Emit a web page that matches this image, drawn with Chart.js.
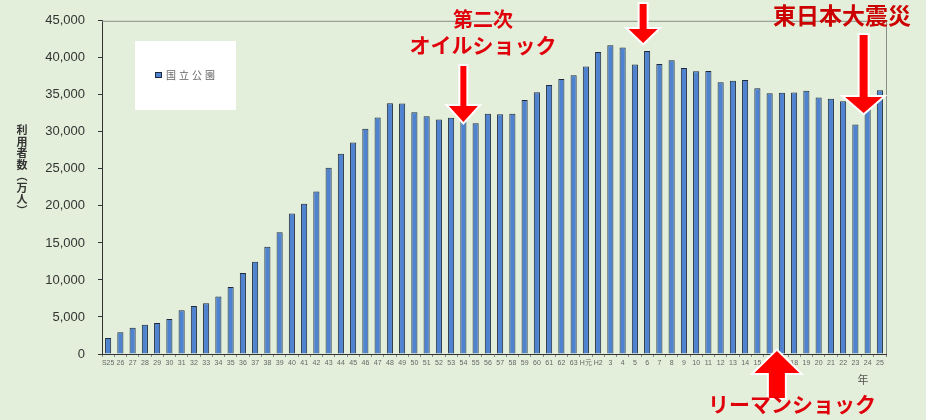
<!DOCTYPE html>
<html lang="ja">
<head>
    <meta charset="UTF-8">
    <title>国立公園 利用者数の推移</title>
    <script src="https://cdn.jsdelivr.net/npm/chart.js"></script>
    <style>
        body { margin: 0; background: #e3efda; }
        #wrap { width: 926px; height: 420px; }
    </style>
</head>
<body>
<div id="wrap"><canvas id="chart" width="926" height="420"></canvas></div>
<script>
    // 年 (S25 〜 S63, H元, H2 〜 H25)
    const years = ['S25', '26', '27', '28', '29', '30', '31', '32', '33', '34', '35', '36', '37', '38', '39',
        '40', '41', '42', '43', '44', '45', '46', '47', '48', '49', '50', '51', '52', '53', '54', '55', '56',
        '57', '58', '59', '60', '61', '62', '63', 'H元', 'H2', '3', '4', '5', '6', '7', '8', '9', '10', '11',
        '12', '13', '14', '15', '16', '17', '18', '19', '20', '21', '22', '23', '24', '25'];

    // 国立公園 利用者数（万人）
    const visitors = [2150, 2930, 3550, 3950, 4180, 4720, 5900, 6480, 6840, 7780, 9040, 10930, 12460, 14480, 16440,
        18990, 20290, 21950, 25140, 27030, 28570, 30410, 31940, 33870, 33830, 32660, 32120, 31670, 31890, 31700, 31170, 32430,
        32390, 32430, 34320, 35360, 36340, 37150, 37650, 38820, 40800, 41700, 41390, 39090, 40930, 39160, 39680, 38640, 38190, 38230,
        36710, 36890, 37020, 35900, 35220, 35270, 35320, 35540, 34640, 34460, 34140, 31000, 34400, 35630];

    const yTicks = [0, 5000, 10000, 15000, 20000, 25000, 30000, 35000, 40000, 45000];
    const seriesName = '国立公園';
    const yTitle = ['利', '用', '者', '数', '︵', '万', '人', '︶'];

    const jpFont = '"Noto Sans CJK JP", sans-serif';
    const red = '#e0000b';

    function drawArrow(ctx, x, yTail, yTip, shaft, head, headLen) {
        const dir = yTip > yTail ? 1 : -1;
        const yBase = yTip - dir * headLen;
        ctx.beginPath();
        ctx.moveTo(x - shaft / 2, yTail);
        ctx.lineTo(x + shaft / 2, yTail);
        ctx.lineTo(x + shaft / 2, yBase);
        ctx.lineTo(x + head / 2, yBase);
        ctx.lineTo(x, yTip);
        ctx.lineTo(x - head / 2, yBase);
        ctx.lineTo(x - shaft / 2, yBase);
        ctx.closePath();
        ctx.lineJoin = 'miter';
        ctx.strokeStyle = '#ffffff';
        ctx.lineWidth = 4;
        ctx.stroke();
        ctx.fillStyle = '#ff0000';
        ctx.fill();
    }

    const decorations = {
        id: 'decorations',
        beforeDraw(chart) {
            const ctx = chart.ctx;
            ctx.save();
            ctx.fillStyle = '#e3efda';
            ctx.fillRect(0, 0, chart.width, chart.height);
            ctx.restore();
        },
        afterDraw(chart) {
            const ctx = chart.ctx;
            const area = chart.chartArea;
            const xs = chart.scales.x;
            ctx.save();

            // top / right frame
            ctx.strokeStyle = '#8a8f88';
            ctx.lineWidth = 1;
            ctx.beginPath();
            ctx.moveTo(area.left, area.top + 0.5);
            ctx.lineTo(area.right + 0.5, area.top + 0.5);
            ctx.lineTo(area.right + 0.5, area.bottom);
            ctx.stroke();

            // legend box
            ctx.fillStyle = '#ffffff';
            ctx.fillRect(135, 41, 101, 69);
            const ds = chart.data.datasets[0];
            ctx.fillStyle = ds.backgroundColor;
            ctx.fillRect(155, 72, 7, 6);
            ctx.strokeStyle = ds.borderColor;
            ctx.strokeRect(155.5, 72.5, 6, 5);
            ctx.fillStyle = '#666';
            ctx.font = '10px ' + jpFont;
            ctx.textBaseline = 'middle';
            ctx.textAlign = 'left';
            [...seriesName].forEach((c, i) => ctx.fillText(c, 166 + i * 13, 75));

            // y axis title (vertical)
            ctx.fillStyle = '#333';
            ctx.font = 'bold 11px ' + jpFont;
            ctx.textAlign = 'center';
            yTitle.forEach((c, i) => ctx.fillText(c, 22, 130 + i * 11.5));

            // 年
            ctx.font = '11px ' + jpFont;
            ctx.fillStyle = '#555';
            ctx.fillText('年', 863, 380);

            // annotations
            const px = lbl => xs.getPixelForValue(years.indexOf(lbl));
            drawArrow(ctx, px('54'), 66, 122, 6, 29, 16);
            drawArrow(ctx, px('6') - 4, 4, 43, 7, 29, 14);
            drawArrow(ctx, px('24') - 4, 35, 113, 8, 37, 16);
            drawArrow(ctx, px('17') - 5, 398, 351, 16, 45, 22);

            ctx.fillStyle = red;
            ctx.textAlign = 'center';
            ctx.textBaseline = 'middle';
            ctx.font = 'bold 20px ' + jpFont;
            ctx.fillText('第二次', 483, 19);
            ctx.font = 'bold 21px ' + jpFont;
            ctx.fillText('オイルショック', 483, 45);
            ctx.fillText('リーマンショック', 792, 404);
            ctx.fillStyle = '#cc0000';
            ctx.font = 'bold 23px ' + jpFont;
            ctx.fillText('東日本大震災', 842, 15);

            ctx.restore();
        }
    };

    new Chart(document.getElementById('chart'), {
        type: 'bar',
        data: {
            labels: years,
            datasets: [{
                label: seriesName,
                data: visitors,
                backgroundColor: '#4f82cf',
                borderColor: '#1c2a3c',
                borderWidth: 1,
                categoryPercentage: 1,
                barPercentage: 0.5
            }]
        },
        options: {
            responsive: false,
            animation: false,
            layout: { padding: { top: 20, right: 40, left: 0, bottom: 0 } },
            plugins: {
                legend: { display: false },
                tooltip: { enabled: false }
            },
            scales: {
                x: {
                    offset: true,
                    grid: { offset: true, drawOnChartArea: false, tickLength: 3, color: '#888' },
                    border: { color: '#333', width: 1 },
                    ticks: {
                        autoSkip: false, maxRotation: 0, minRotation: 0, padding: 2,
                        color: '#666', font: { size: 7, family: '"Liberation Sans", Arial, sans-serif' }
                    },
                    afterFit: s => { s.height = 66; }
                },
                y: {
                    min: 0,
                    max: 45000,
                    afterBuildTicks: s => { s.ticks = yTicks.map(v => ({ value: v })); },
                    grid: { drawOnChartArea: false, tickLength: 4, color: '#333' },
                    border: { color: '#333', width: 1 },
                    ticks: {
                        padding: 13,
                        color: '#333',
                        font: { size: 13, family: '"Liberation Sans", Arial, sans-serif' },
                        callback: v => v.toLocaleString('en-US')
                    },
                    afterFit: s => { s.width = 102; }
                }
            }
        },
        plugins: [decorations]
    });
</script>
</body>
</html>
